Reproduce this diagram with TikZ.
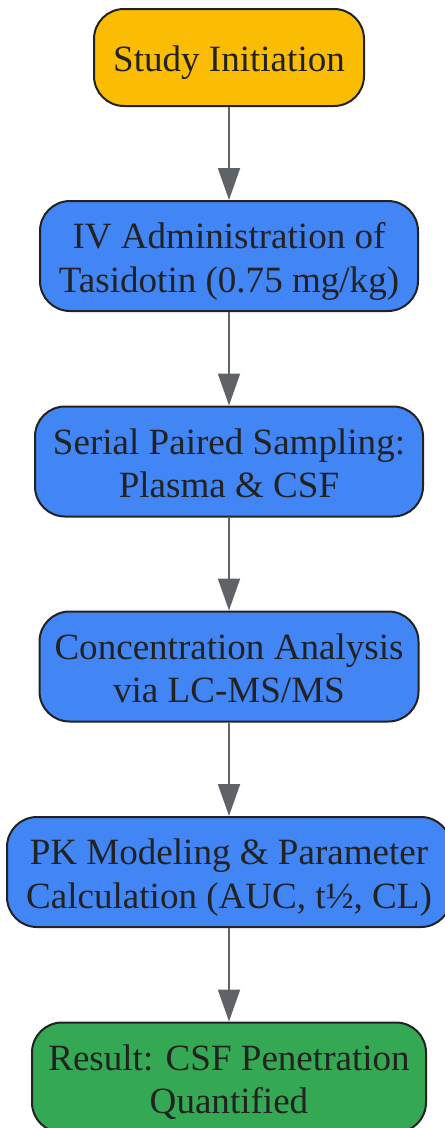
\documentclass[tikz,border=0pt]{standalone}
\usepackage{fontspec}
\setmainfont{Liberation Serif}
\usetikzlibrary{arrows.meta}
\definecolor{cOrange}{HTML}{FBBC04}
\definecolor{cBlue}{HTML}{4285F4}
\definecolor{cGreen}{HTML}{34A853}
\definecolor{cArrow}{HTML}{5F6368}
\definecolor{cText}{HTML}{222222}
\definecolor{cBorder}{HTML}{222222}
\newcommand\boxlbl[1]{\raisebox{-4.25pt}[\height][\depth]{\begin{tabular}{@{}c@{}}#1\end{tabular}}}
\tikzset{
  box/.style={draw=cBorder, line width=1.5pt, rounded corners=22.5pt, align=center,
    text=cText, inner sep=0pt,
    font=\fontsize{27.8pt}{32.5pt}\selectfont},
  flow/.style={draw=cArrow, line width=1.5pt, -{Triangle[length=24pt,width=16.5pt]}}
}
\begin{document}
\begin{tikzpicture}[x=0.75pt,y=-0.75pt]
\useasboundingbox (0,0) rectangle (445,1128);
\node[box, fill=cOrange, minimum width=270*0.75pt, minimum height=97*0.75pt] (n1) at (229,57.5) {\boxlbl{Study Initiation}};
\node[box, fill=cBlue, minimum width=378*0.75pt, minimum height=110*0.75pt] (n2) at (229,256) {\boxlbl{IV Administration of\\Tasidotin (0.75 mg/kg)}};
\node[box, fill=cBlue, minimum width=388*0.75pt, minimum height=110*0.75pt] (n3) at (229,461.5) {\boxlbl{Serial Paired Sampling:\\Plasma \& CSF}};
\node[box, fill=cBlue, minimum width=379*0.75pt, minimum height=110*0.75pt] (n4) at (229,666.5) {\boxlbl{Concentration Analysis\\via LC-MS/MS}};
\node[box, fill=cBlue, minimum width=444*0.75pt, minimum height=110*0.75pt] (n5) at (229,872) {\boxlbl{PK Modeling \& Parameter\\Calculation (AUC, t½, CL)}};
\node[box, fill=cGreen, minimum width=394*0.75pt, minimum height=110*0.75pt] (n6) at (229,1077.5) {\boxlbl{Result: CSF Penetration\\Quantified}};
\draw[flow] (n1) -- (n2);
\draw[flow] (n2) -- (n3);
\draw[flow] (n3) -- (n4);
\draw[flow] (n4) -- (n5);
\draw[flow] (n5) -- (n6);
\end{tikzpicture}
\end{document}
